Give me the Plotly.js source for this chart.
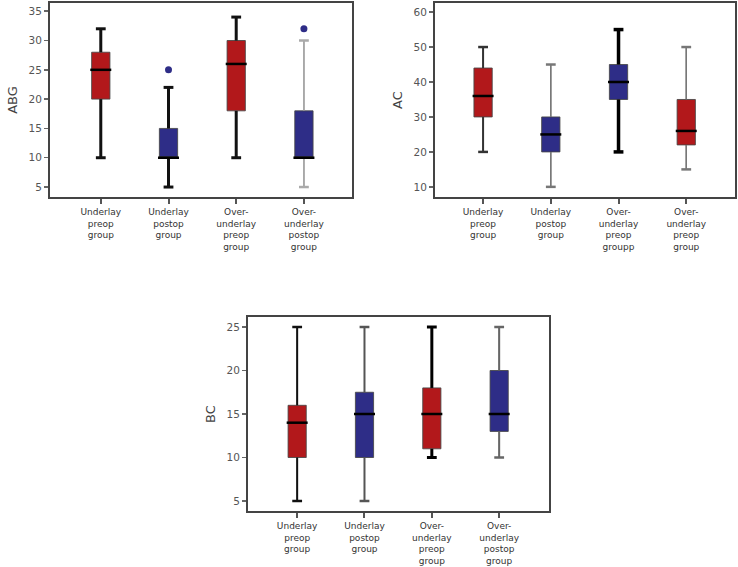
<!DOCTYPE html>
<html>
<head>
<meta charset="utf-8">
<script src="https://cdn.plot.ly/plotly-3.0.1.min.js"></script>
<style>html,body{margin:0;padding:0;background:#fff;}#chart{width:738px;height:567px;}</style>
</head>
<body>
<div id="chart"></div>
<script>
// ---- data ----
const labelsABG = ["Underlay<br>preop<br>group", "Underlay<br>postop<br>group", "Over-<br>underlay<br>preop<br>group", "Over-<br>underlay<br>postop<br>group"];
const labelsAC  = ["Underlay<br>preop<br>group", "Underlay<br>postop<br>group", "Over-<br>underlay<br>preop<br>groupp", "Over-<br>underlay<br>preop<br>group"];
const labelsBC  = ["Underlay<br>preop<br>group", "Underlay<br>postop<br>group", "Over-<br>underlay<br>preop<br>group", "Over-<br>underlay<br>postop<br>group"];

const abgLow  = [10, 5, 10, 5];
const abgQ1   = [20, 10, 18, 10];
const abgMed  = [25, 10, 26, 10];
const abgQ3   = [28, 15, 30, 18];
const abgHigh = [32, 22, 34, 30];
const abgOutGroup = [1, 3];
const abgOutVal   = [25, 32];

const acLow  = [20, 10, 20, 15];
const acQ1   = [30, 20, 35, 22];
const acMed  = [36, 25, 40, 26];
const acQ3   = [44, 30, 45, 35];
const acHigh = [50, 45, 55, 50];

const bcLow  = [5, 5, 10, 10];
const bcQ1   = [10, 10, 11, 13];
const bcMed  = [14, 15, 15, 15];
const bcQ3   = [16, 17.5, 18, 20];
const bcHigh = [25, 25, 25, 25];

// ---- styles ----
const RED = '#b2181b', BLUE = '#2e2d87';
const fillABG = [RED, BLUE, RED, BLUE];
const fillAC  = [RED, BLUE, BLUE, RED];
const fillBC  = [RED, BLUE, RED, BLUE];
const whiskABG = [['#111', 3], ['#111', 3], ['#111', 3], ['#aaa', 1.5]];
const whiskAC  = [['#333', 2], ['#777', 1.5], ['#000', 3.5], ['#777', 1.5]];
const whiskBC  = [['#111', 2], ['#555', 2], ['#000', 3], ['#666', 2]];

const traces = [];
function addPanel(xa, ya, low, q1, med, q3, high, fills, whisk) {
  for (let i = 0; i < low.length; i++) {
    traces.push({
      type: 'box', x: [i], q1: [q1[i]], median: [med[i]], q3: [q3[i]],
      lowerfence: [low[i]], upperfence: [high[i]],
      width: 0.27, whiskerwidth: 0, boxpoints: false,
      fillcolor: fills[i], line: {color: 'rgba(70,70,70,0.85)', width: 1},
      xaxis: xa, yaxis: ya, showlegend: false, hoverinfo: 'skip'
    });
    traces.push({
      type: 'scatter', mode: 'lines',
      x: [i, i, null, i, i], y: [low[i], q1[i], null, q3[i], high[i]],
      line: {color: whisk[i][0], width: whisk[i][1]},
      xaxis: xa, yaxis: ya, showlegend: false, hoverinfo: 'skip'
    });
    traces.push({
      type: 'scatter', mode: 'markers',
      x: [i, i], y: [low[i], high[i]],
      marker: {symbol: 'line-ew', size: 7, line: {color: whisk[i][0], width: Math.max(2.5, whisk[i][1])}},
      xaxis: xa, yaxis: ya, showlegend: false, hoverinfo: 'skip'
    });
    traces.push({
      type: 'scatter', mode: 'markers',
      x: [i], y: [med[i]],
      marker: {symbol: 'line-ew', size: 15, line: {color: '#000', width: 2.5}},
      xaxis: xa, yaxis: ya, showlegend: false, hoverinfo: 'skip'
    });
  }
}
addPanel('x', 'y', abgLow, abgQ1, abgMed, abgQ3, abgHigh, fillABG, whiskABG);
addPanel('x2', 'y2', acLow, acQ1, acMed, acQ3, acHigh, fillAC, whiskAC);
addPanel('x3', 'y3', bcLow, bcQ1, bcMed, bcQ3, bcHigh, fillBC, whiskBC);
traces.push({
  type: 'scatter', mode: 'markers', x: abgOutGroup, y: abgOutVal,
  marker: {symbol: 'circle', size: 7, color: BLUE},
  xaxis: 'x', yaxis: 'y', showlegend: false, hoverinfo: 'skip'
});

const FONT = 'DejaVu Sans, Liberation Sans, Arial, sans-serif';
function xAxis(domain, range, anchor, labels) {
  return {
    domain: domain, range: range, anchor: anchor,
    tickmode: 'array', tickvals: [0, 1, 2, 3], ticktext: labels,
    ticks: 'outside', ticklen: 5, tickwidth: 2, tickcolor: '#555',
    tickfont: {family: FONT, size: 9, color: '#333'},
    showline: true, mirror: true, linecolor: '#444', linewidth: 2,
    showgrid: false, zeroline: false, fixedrange: true
  };
}
function yAxis(domain, range, anchor, tickvals, title) {
  return {
    domain: domain, range: range, anchor: anchor,
    tickmode: 'array', tickvals: tickvals,
    ticks: 'outside', ticklen: 4, tickwidth: 1.5, tickcolor: '#666',
    tickfont: {family: FONT, size: 10.5, color: '#555'},
    title: {text: title, font: {family: FONT, size: 13, color: '#444'}, standoff: 8},
    showline: true, mirror: true, linecolor: '#444', linewidth: 2,
    showgrid: false, zeroline: false, fixedrange: true
  };
}

const W = 738, H = 567;
const px = (a, b) => [a / W, b / W];
const py = (top, bottom) => [1 - bottom / H, 1 - top / H];

const layout = {
  width: W, height: H,
  margin: {l: 0, r: 0, t: 0, b: 0},
  paper_bgcolor: '#fff', plot_bgcolor: '#fff',
  showlegend: false,
  xaxis:  xAxis(px(50, 352), [-0.75, 3.71], 'y', labelsABG),
  yaxis:  yAxis(py(3, 197), [3.3, 36.4], 'x', [5, 10, 15, 20, 25, 30, 35], 'ABG'),
  xaxis2: xAxis(px(435, 735), [-0.71, 3.72], 'y2', labelsAC),
  yaxis2: yAxis(py(3, 197), [7.1, 62.6], 'x2', [10, 20, 30, 40, 50, 60], 'AC'),
  xaxis3: xAxis(px(248, 549), [-0.73, 3.74], 'y3', labelsBC),
  yaxis3: yAxis(py(317, 511), [3.85, 26.15], 'x3', [5, 10, 15, 20, 25], 'BC')
};

Plotly.newPlot('chart', traces, layout, {staticPlot: true, displayModeBar: false});
</script>
</body>
</html>
